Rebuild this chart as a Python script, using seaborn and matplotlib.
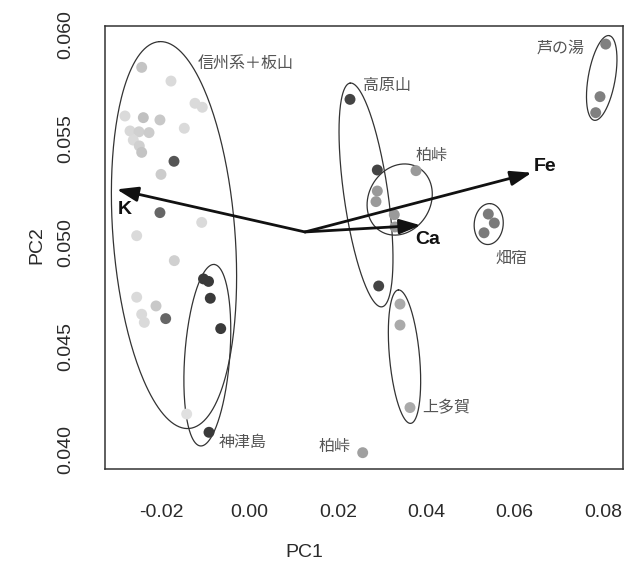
import numpy as np
import pandas as pd
import matplotlib
matplotlib.use("Agg")
import matplotlib.pyplot as plt
import seaborn as sns

# ---------------- data ----------------
pc1 = [-0.02437, -0.01774, -0.01231, -0.01066, -0.02815, -0.02400, -0.02024, -0.01473,
       -0.02701, -0.02498, -0.02271, -0.02627, -0.02491, -0.02437, -0.01706, -0.02000,
       -0.02024, -0.01079, -0.02550, -0.01699, -0.02550, -0.02113, -0.02437, -0.02378,
       -0.01894, -0.01419,
       -0.01038, -0.00925, -0.00885, -0.00649, -0.00914,
       0.02276, 0.02894, 0.02925,
       0.03769, 0.02894, 0.02864, 0.03278, 0.03294,
       0.03407, 0.03407, 0.03633,
       0.02563,
       0.05405, 0.05541, 0.05308,
       0.08061, 0.07932, 0.07835]
pc2 = [0.05841, 0.05775, 0.05668, 0.05649, 0.05607, 0.05599, 0.05588, 0.05548,
       0.05535, 0.05531, 0.05527, 0.05491, 0.05463, 0.05432, 0.05389, 0.05326,
       0.05142, 0.05095, 0.05031, 0.04911, 0.04735, 0.04693, 0.04653, 0.04614,
       0.04632, 0.04173,
       0.04823, 0.04811, 0.04730, 0.04584, 0.04085,
       0.05687, 0.05347, 0.04789,
       0.05344, 0.05246, 0.05195, 0.05132, 0.05073,
       0.04702, 0.04601, 0.04204,
       0.03987,
       0.05135, 0.05092, 0.05045,
       0.05953, 0.05700, 0.05623]
shade = ["#c4c4c4", "#dadada", "#dadada", "#dadada", "#dadada", "#c0c0c0", "#c8c8c8", "#dadada",
         "#d8d8d8", "#d0d0d0", "#cccccc", "#dadada", "#d0d0d0", "#c4c4c4", "#555555", "#cccccc",
         "#666666", "#dadada", "#dadada", "#d0d0d0", "#dadada", "#c8c8c8", "#dadada", "#dadada",
         "#666666", "#e0e0e0",
         "#3a3a3a", "#3a3a3a", "#3a3a3a", "#3a3a3a", "#3a3a3a",
         "#444444", "#444444", "#444444",
         "#9a9a9a", "#9a9a9a", "#9a9a9a", "#9a9a9a", "#9a9a9a",
         "#aaaaaa", "#aaaaaa", "#aaaaaa",
         "#a0a0a0",
         "#7a7a7a", "#7a7a7a", "#7a7a7a",
         "#808080", "#808080", "#808080"]

# group labels
label_text = ["信州系＋板山", "高原山", "柏峠", "上多賀", "柏峠", "芦の湯", "畑宿", "神津島"]
label_x = [-0.01163, 0.02570, 0.03747, 0.03905, 0.02276, 0.06507, 0.05557, -0.00688]
label_y = [0.05862, 0.05756, 0.05419, 0.04202, 0.04019, 0.05934, 0.04924, 0.04034]
label_ha = ["left", "left", "left", "left", "right", "left", "left", "left"]

# loading vectors
vec_origin = (0.01258, 0.05049)
vec_name = ["K", "Fe", "Ca"]
vec_x = [-0.03002, 0.06387, 0.03876]
vec_y = [0.05254, 0.05334, 0.05081]
vec_lx = [-0.02814, 0.06688, 0.04038]
vec_ly = [0.05155, 0.05366, 0.05015]

# group ellipses: centre (data), semi-axes (px), angle (deg, display)
ell_cx = [-0.01706, -0.00952, 0.02638, 0.03400, 0.03509, 0.05414, 0.07971]
ell_cy = [0.05034, 0.04456, 0.05227, 0.05205, 0.04449, 0.05087, 0.05790]
ell_a = [194, 91, 113, 37, 67, 20.5, 43]
ell_b = [61, 22.5, 22, 31, 15, 14.5, 13.5]
ell_ang = [94.4, 85.7, 98.1, 60, 95.3, 85, 80]

xticks = [-0.02, 0.00, 0.02, 0.04, 0.06, 0.08]
yticks = [0.040, 0.045, 0.050, 0.055, 0.060]

# ---------------- style ----------------
sns.set_style("white")
plt.rcParams["font.family"] = ["Liberation Sans", "Noto Sans CJK JP", "DejaVu Sans"]

W, H, DPI = 6.24, 5.71, 100
fig = plt.figure(figsize=(W, H), dpi=DPI)
ax = fig.add_axes([105 / 624, 1 - 469.3 / 571, (622.5 - 105) / 624, (469.3 - 26) / 571])

df = pd.DataFrame({"PC1": pc1, "PC2": pc2, "shade": shade})
sns.scatterplot(data=df, x="PC1", y="PC2", hue="shade",
                palette={c: c for c in set(shade)}, legend=False,
                s=62, linewidth=0, ax=ax, zorder=3)

ax.set_xlim(-0.03267, 0.08441)
ax.set_ylim(0.03907, 0.0604)
ax.set_xticks(xticks)
ax.set_xticklabels([f"{v:.2f}" for v in xticks])
ax.set_yticks(yticks)
ax.set_yticklabels([f"{v:.3f}" for v in yticks], rotation=90, va="center")
ax.tick_params(axis="both", direction="out", length=9, width=1.0, color="#333333",
               labelsize=14, labelcolor="#2a2a2a")
ax.tick_params(axis="x", pad=16)
ax.tick_params(axis="y", pad=13)
for sp in ax.spines.values():
    sp.set_color("#333333")
    sp.set_linewidth(1.1)

ax.set_xlabel("PC1", fontsize=14, color="#2a2a2a")
ax.set_ylabel("PC2", fontsize=14, color="#2a2a2a")
ax.xaxis.set_label_coords((304 - 105) / 517.5, (469.3 - 544) / 443.3)
ax.yaxis.set_label_coords((45 - 105) / 517.5, (469.3 - 245) / 443.3)

# ellipses (drawn in display pixels, mapped back to data)
fig.canvas.draw()
t = np.linspace(0, 2 * np.pi, 300)
for cx, cy, a, b, ang in zip(ell_cx, ell_cy, ell_a, ell_b, ell_ang):
    c = ax.transData.transform((cx, cy))
    th = np.deg2rad(ang)
    ex = a * np.cos(t) * np.cos(th) - b * np.sin(t) * np.sin(th) + c[0]
    ey = a * np.cos(t) * np.sin(th) + b * np.sin(t) * np.cos(th) + c[1]
    pts = ax.transData.inverted().transform(np.column_stack([ex, ey]))
    ax.plot(pts[:, 0], pts[:, 1], color="#333333", lw=0.9, zorder=2)

# arrows
for nm, x, y, lx, ly in zip(vec_name, vec_x, vec_y, vec_lx, vec_ly):
    ax.annotate("", xy=(x, y), xytext=vec_origin,
                arrowprops=dict(arrowstyle="-|>,head_length=0.8,head_width=0.28",
                                mutation_scale=16, lw=2.0, color="#111111",
                                shrinkA=0, shrinkB=0), zorder=4)
    ax.text(lx, ly, nm, fontsize=14, fontweight="bold", color="#111111",
            ha="center", va="center", zorder=5)

for txt, x, y, ha in zip(label_text, label_x, label_y, label_ha):
    ax.text(x, y, txt, fontsize=11.5, color="#555555", ha=ha, va="center",
            family=["Noto Sans CJK JP", "DejaVu Sans"], zorder=5)

fig.savefig("out.png", dpi=DPI)
